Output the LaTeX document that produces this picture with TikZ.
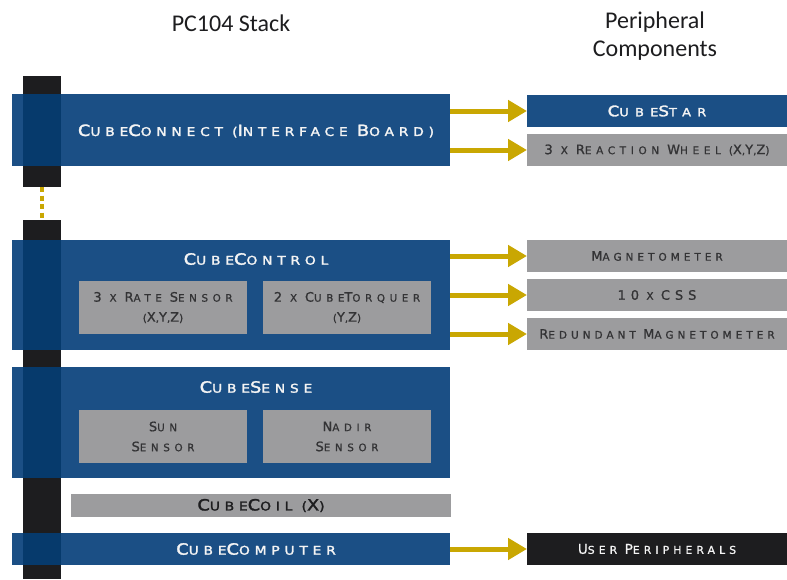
\documentclass[tikz,border=0pt]{standalone}
\usepackage{fontspec}
\setmainfont{Carlito}
\newfontfamily\tfont[LetterSpace=40,FakeStretch=1.15,FakeBold=2]{DejaVu Sans}
\newfontfamily\stfont[LetterSpace=55,FakeStretch=1.15,FakeBold=2]{DejaVu Sans}
\newfontfamily\sbfont[LetterSpace=45,FakeBold=1]{DejaVu Sans}
\newfontfamily\pgfont[LetterSpace=38,FakeBold=1]{DejaVu Sans}
\newfontfamily\rwfont[LetterSpace=44,FakeBold=1]{DejaVu Sans}
\usetikzlibrary{arrows.meta}
\definecolor{cblue}{HTML}{1B4F85}
\definecolor{cdark}{HTML}{063A6C}
\definecolor{cblack}{HTML}{1D1D1F}
\definecolor{cgray}{HTML}{9C9C9E}
\definecolor{ctext}{HTML}{333335}
\definecolor{cwhite}{HTML}{F4F4F4}
\definecolor{cyellow}{HTML}{C9A702}
\newcommand\capsize{15}
\newcommand\K[1]{{\fontsize{\capsize}{\capsize}\selectfont #1}}
\tikzset{
  base/.style={rectangle, inner sep=0pt, outer sep=0pt, align=center},
  board/.style={base, fill=cblue, minimum width=438pt},
  title/.style={base, text=cwhite,
    font=\renewcommand\capsize{15.5}\tfont\fontsize{12}{14}\selectfont},
  subbox/.style={base, fill=cgray, text=ctext, minimum width=168pt, minimum height=53pt,
    font=\renewcommand\capsize{13}\sbfont\fontsize{10.3}{20}\selectfont},
  coilbox/.style={base, fill=cgray, text=cblack,
    font=\renewcommand\capsize{15.5}\tfont\fontsize{12}{14}\selectfont},
  periph/.style={base, minimum width=260pt, minimum height=32pt},
  starbox/.style={periph, fill=cblue, text=cwhite,
    font=\renewcommand\capsize{14.5}\stfont\fontsize{11.3}{14}\selectfont},
  pgray/.style={periph, fill=cgray, text=ctext,
    font=\renewcommand\capsize{13}\pgfont\fontsize{10.5}{14}\selectfont},
  rwgray/.style={periph, fill=cgray, text=ctext,
    font=\renewcommand\capsize{13}\rwfont\fontsize{10.5}{14}\selectfont},
  blackbox/.style={periph, fill=cblack, text=cwhite,
    font=\renewcommand\capsize{13.5}\pgfont\fontsize{10.8}{14}\selectfont},
  barseg/.style={base, fill=cblack, minimum width=38pt},
  conn/.style={cyellow, line width=5pt, -{Triangle[length=19pt,width=21pt]}},
  dashconn/.style={cyellow, line width=3.5pt, dash pattern=on 5pt off 3.5pt},
  header/.style={base, font=\fontsize{24}{28}\selectfont, text=cblack},
}
\begin{document}
\begin{tikzpicture}[x=1pt, y=-1pt]
\useasboundingbox (0,0) rectangle (787,579);
% headers
\node[header] (h1) at (231,23) {PC104 Stack};
\node[header] (h2) at (655,36) {Peripheral\\Components};
% stack bar
\node[barseg, minimum height=111pt] (bar1) at (42,131.5) {};
\node[barseg, minimum height=359pt] (bar2) at (42,399.5) {};
\draw[dashconn] (bar1.south) -- (bar2.north);
% boards
\node[board, minimum height=72pt] (cc) at (231,130) {};
\node[board, minimum height=110pt] (ctrl) at (231,295) {};
\node[board, minimum height=111pt] (sense) at (231,422.5) {};
\node[coilbox, minimum width=380pt, minimum height=23pt] (coil) at (261,505.5)
  {\K{C}UBE\K{C}OIL (\K{X})};
\node[board, minimum height=32pt] (comp) at (231,549) {};
% bar overlays
\foreach \b in {cc,ctrl,sense,comp}
  \fill[cdark] (bar1.west |- \b.north) rectangle (bar1.east |- \b.south);
% titles
\node[title] (cct) at (256,131) {\K{C}UBE\K{C}ONNECT (\K{I}NTERFACE \K{B}OARD)};
\node[title] (ctrlt) at (256,259) {\K{C}UBE\K{C}ONTROL};
\node[title] (senset) at (256,387) {\K{C}UBE\K{S}ENSE};
\node[title] (compt) at (256,549) {\K{C}UBE\K{C}OMPUTER};
% sub boxes
\node[subbox] (rate) at (163,307.5)
  {\K{3} X \K{R}ATE \K{S}ENSOR\\(\K{X},\K{Y},\K{Z})};
\node[subbox] (torq) at (347,307.5)
  {\K{2} X \K{C}UBE\K{T}ORQUER\\(\K{Y},\K{Z})};
\node[subbox] (sun) at (163,436.5)
  {\K{S}UN\\\K{S}ENSOR};
\node[subbox] (nadir) at (347,436.5)
  {\K{N}ADIR\\\K{S}ENSOR};
% peripherals
\node[starbox] (star) at (657,111) {\K{C}UBE\K{S}TAR};
\node[rwgray] (rw) at (657,150) {\K{3} X \K{R}EACTION \K{W}HEEL (\K{X},\K{Y},\K{Z})};
\node[pgray] (mag) at (657,256) {\K{M}AGNETOMETER};
\node[pgray] (css) at (657,295) {\K{10} X \K{CSS}};
\node[pgray] (rmag) at (657,334) {\K{R}EDUNDANT \K{M}AGNETOMETER};
\node[blackbox] (user) at (657,549) {\K{U}SER \K{P}ERIPHERALS};
% connectors
\draw[conn] (cc.east |- star.west) -- (star.west);
\draw[conn] (cc.east |- rw.west) -- (rw.west);
\draw[conn] (ctrl.east |- mag.west) -- (mag.west);
\draw[conn] (ctrl.east |- css.west) -- (css.west);
\draw[conn] (ctrl.east |- rmag.west) -- (rmag.west);
\draw[conn] (comp.east |- user.west) -- (user.west);
\end{tikzpicture}
\end{document}
